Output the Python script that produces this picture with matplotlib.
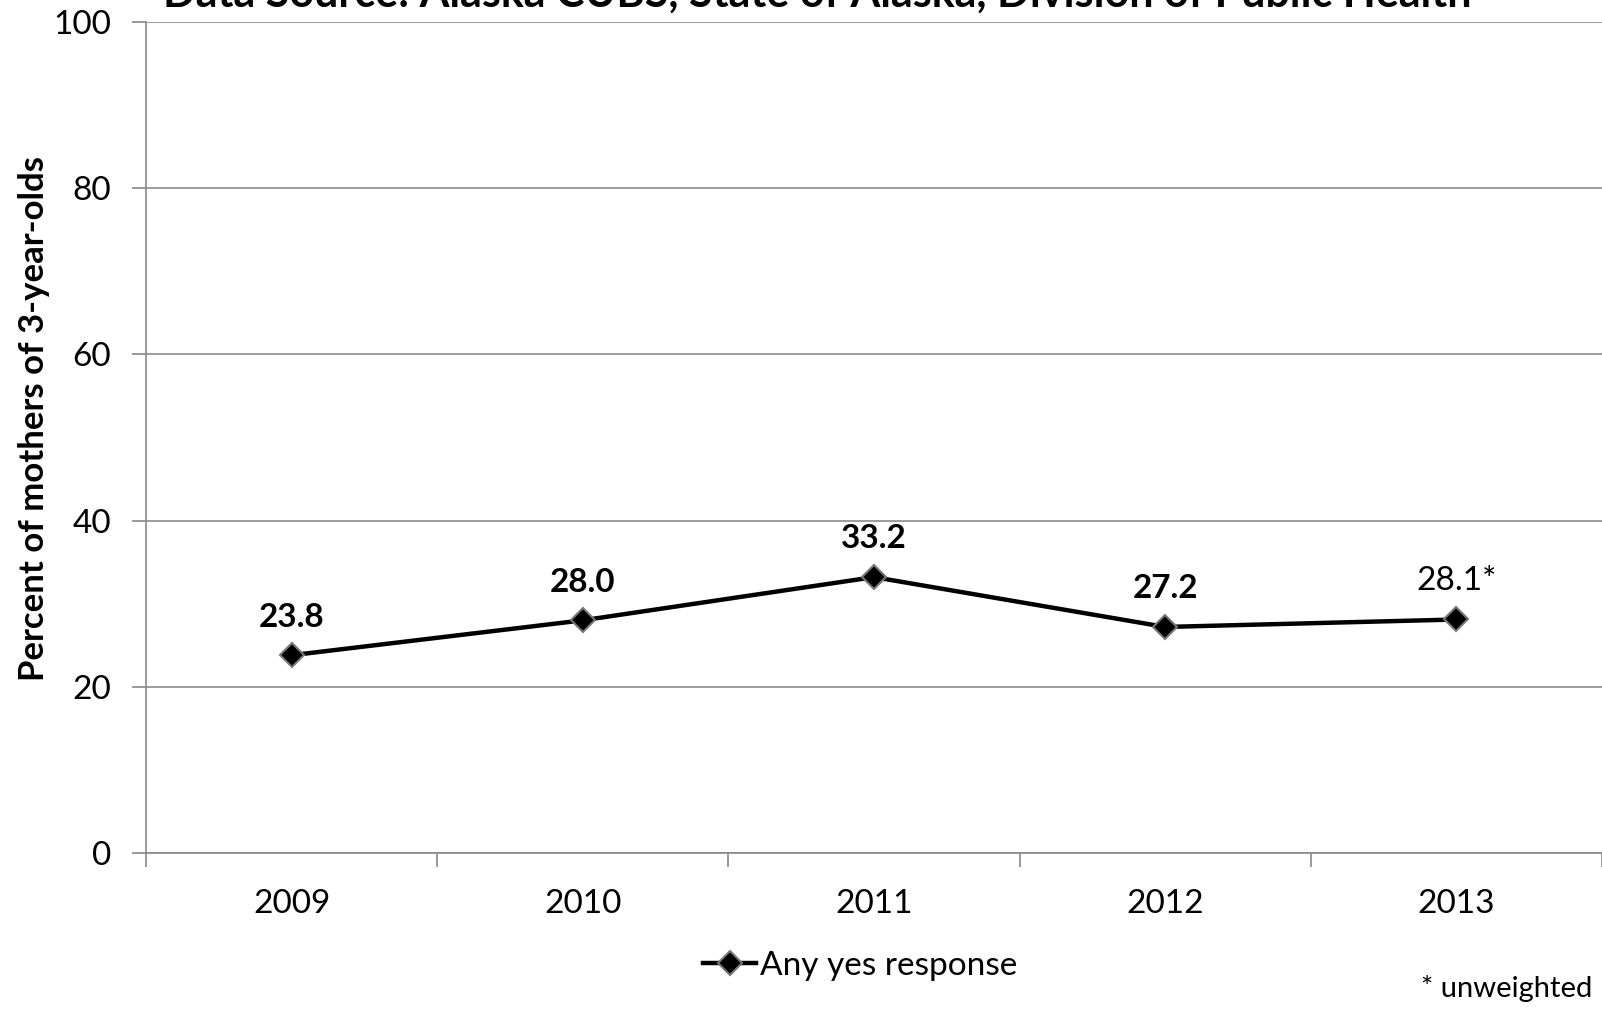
import matplotlib.pyplot as plt

plt.rcParams['font.family'] = ['Lato', 'DejaVu Sans']

# data
years = ['2009', '2010', '2011', '2012', '2013']
values = [23.8, 28.0, 33.2, 27.2, 28.1]
labels = ['23.8', '28.0', '33.2', '27.2', '28.1*']
bold = [True, True, True, True, False]

fig = plt.figure(figsize=(16.02, 10.09), dpi=100)
ax = fig.add_axes([146 / 1602, 1 - 853 / 1009, (1602 - 146) / 1602, (853 - 22) / 1009])

x = list(range(1, len(years) + 1))
ax.plot(x, values, color='black', lw=3.2, marker='D', ms=12,
        markerfacecolor='black', markeredgecolor='#777777', markeredgewidth=1.5,
        label='Any yes response', zorder=3)

for xi, v, lab, b in zip(x, values, labels, bold):
    ax.annotate(lab, (xi, v), xytext=(0, 17), textcoords='offset points',
                ha='center', va='bottom', fontsize=24,
                fontweight='bold' if b else 'normal')

ax.set_xlim(0.5, 5.5)
ax.set_ylim(0, 100)
ax.set_yticks(range(0, 101, 20))
ax.set_xticks(x)
ax.set_xticklabels(years)
ax.set_xticks([0.5, 1.5, 2.5, 3.5, 4.5, 5.5], minor=True)
ax.tick_params(axis='x', which='major', length=0, labelsize=24, pad=26)
ax.tick_params(axis='x', which='minor', length=10, color='#888888', width=1.2)
ax.tick_params(axis='y', length=10, color='#888888', width=1.2, labelsize=24, pad=15)

ax.grid(axis='y', color='#8c8c8c', lw=1.2)
ax.set_axisbelow(True)
for s in ['top', 'right']:
    ax.spines[s].set_visible(False)
for s in ['left', 'bottom']:
    ax.spines[s].set_color('#888888')
    ax.spines[s].set_linewidth(1.2)

ax.set_ylabel('Percent of mothers of 3-year-olds', fontsize=25, fontweight='bold')
ax.yaxis.set_label_coords(-0.066, 0.523)

# title is cut off at the top edge in the original
fig.text(817 / 1602, 1 - 7 / 1009, 'Data Source: Alaska CUBS, State of Alaska, Division of Public Health',
         ha='center', va='baseline', fontsize=31, fontweight='bold')

ax.legend(loc='center', bbox_to_anchor=(860 / 1602, 1 - 966 / 1009), bbox_transform=fig.transFigure,
          frameon=False, fontsize=24, handlelength=1.6, handletextpad=0.1)

fig.text(1592 / 1602, 1 - 989 / 1009, '* unweighted', ha='right', va='center', fontsize=21)

fig.savefig('out.png', dpi=100)
